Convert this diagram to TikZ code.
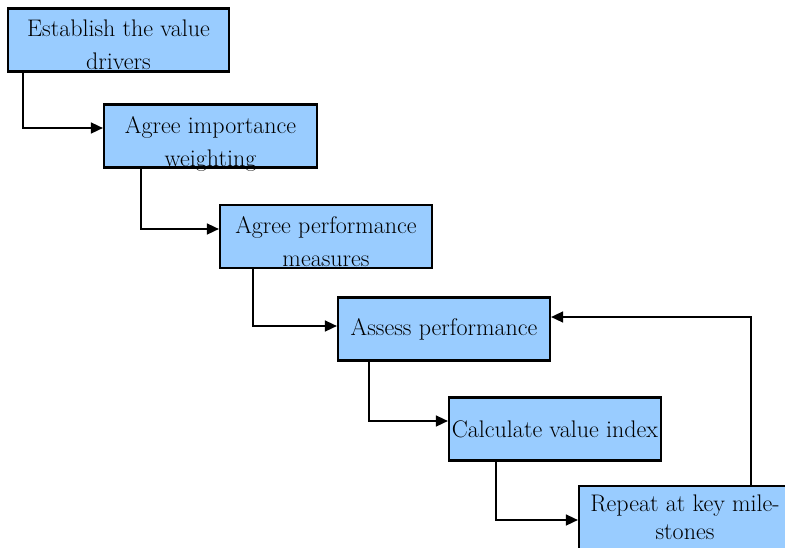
\documentclass[tikz,border=0pt]{standalone}
\usetikzlibrary{arrows.meta,positioning}
\definecolor{boxblue}{RGB}{153,204,255}

\begin{document}
\begin{tikzpicture}[x=1pt, y=-1pt,
    stepbox/.style={draw, line width=2.2pt, fill=boxblue, minimum width=212pt, minimum height=63pt, inner sep=0pt, font=\fontsize{24}{33}\selectfont},
    boxtext/.style={font=\fontsize{24}{33}\selectfont, align=center, inner sep=0pt, anchor=north},
    arrow/.style={line width=1.6pt, -{Triangle[length=12pt,width=11pt]}}
  ]
  \useasboundingbox (0,0) rectangle (785,547);
  \clip (0,0) rectangle (785,547);

  % Boxes
  \node[stepbox, minimum width=221pt] (drivers) at (118.5,40) {};
  \node[boxtext] (driverstext) at ([yshift=-12.5pt]drivers.north) {Establish the value\\drivers};

  \node[stepbox, minimum width=213pt] (weighting) at (210.5,136) {};
  \node[boxtext] (weightingtext) at ([yshift=-12.5pt]weighting.north) {Agree importance\\weighting};

  \node[stepbox] (measures) at (326,236.5) {};
  \node[boxtext] (measurestext) at ([yshift=-12.5pt]measures.north) {Agree performance\\measures};

  \node[stepbox] (assess) at (444,329) {Assess performance};

  \node[stepbox] (index) at (555,429) {Calculate value index};

  \node[stepbox] (repeat) at (685,517.5) {};
  \node[boxtext, font=\fontsize{24}{28}\selectfont] (repeattext) at ([yshift=-10pt]repeat.north) {Repeat at key mile-\\stones};

  % Arrows
  \draw[arrow] ([xshift=16pt]drivers.south west) |- ([yshift=8pt]weighting.west);
  \draw[arrow] ([xshift=38pt]weighting.south west) |- ([yshift=7.5pt]measures.west);
  \draw[arrow] ([xshift=34pt]measures.south west) |- ([yshift=3pt]assess.west);
  \draw[arrow] ([xshift=32pt]assess.south west) |- ([yshift=8pt]index.west);
  \draw[arrow] ([xshift=48pt]index.south west) |- ([yshift=-2.5pt]repeat.west);

  % Feedback loop
  \draw[arrow] ([xshift=173pt]repeat.north west) |- ([yshift=12pt]assess.east);

\end{tikzpicture}
\end{document}
